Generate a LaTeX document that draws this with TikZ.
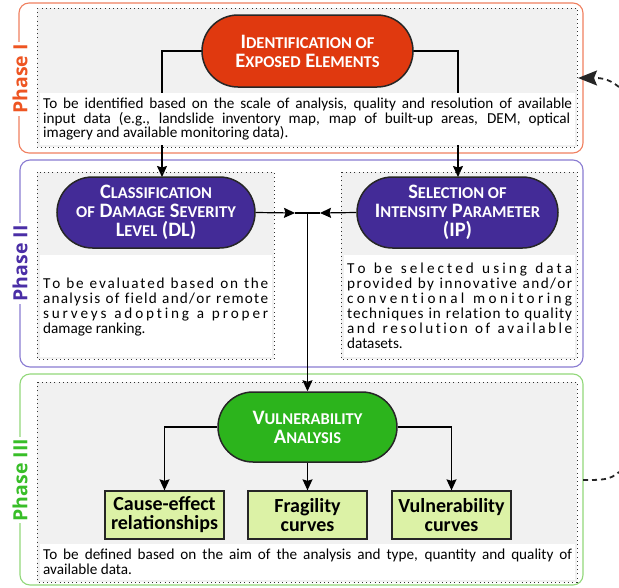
\documentclass[tikz,border=0pt]{standalone}
\usepackage{fontspec}
\setmainfont{Carlito}
\newfontfamily\labfont{Open Sans}
\usetikzlibrary{arrows.meta,shapes.misc}
\definecolor{phIline}{HTML}{F08060}
\definecolor{phItext}{HTML}{EE5522}
\definecolor{pillred}{HTML}{E0390F}
\definecolor{phIIline}{HTML}{8A7CD2}
\definecolor{phIItext}{HTML}{4A2EA6}
\definecolor{pillpurple}{HTML}{432B97}
\definecolor{phIIIline}{HTML}{92D87A}
\definecolor{phIIItext}{HTML}{38BE28}
\definecolor{pillgreen}{HTML}{2CB41C}
\definecolor{outbox}{HTML}{DCF2A6}
\definecolor{panelgray}{HTML}{F1F1F1}
\newcommand\sct[1]{{\fontsize{16.5}{19}\selectfont #1}}
\newcommand\jl[2]{\makebox[#1][s]{#2}}
\ExplSyntaxOn
\seq_new:N \l_my_words_seq
\NewDocumentCommand \lsline { m m }
  {
    \seq_set_split:Nnn \l_my_words_seq { ~ } {#2}
    \makebox[#1][s]
      {
        \seq_map_inline:Nn \l_my_words_seq
          {
            \tl_map_inline:nn {##1} { ####1 \hskip 0pt plus 1fil \relax }
            \unskip \hskip 0.22em plus 1.6fil \relax
          }
        \unskip
      }
  }
\ExplSyntaxOff
\tikzset{
  phasebox/.style={draw, line width=1.1pt, rounded corners=10pt, fill=white},
  panelfill/.style={fill=panelgray},
  whitearea/.style={fill=white},
  dotbox/.style={draw=black!80, line width=1pt, dash pattern=on 1pt off 3.2pt},
  pill/.style={rounded rectangle, draw=black!85, line width=1.5pt, text=white,
    align=center, inner sep=0pt,
    font=\fontsize{20.5}{19}\selectfont\bfseries},
  outnode/.style={draw=black!85, line width=1.3pt, fill=outbox, align=center,
    minimum width=119pt, minimum height=48pt, inner sep=0pt,
    font=\fontsize{20}{19}\selectfont\bfseries},
  bodytext/.style={anchor=base west, inner sep=0pt, font=\fontsize{15.2}{15}\selectfont},
  phaselabel/.style={rotate=90, fill=white, inner sep=2pt,
    font=\labfont\fontsize{19.5}{19}\selectfont\bfseries},
  arr/.style={line width=1.2pt, -{Stealth[length=11pt,width=10pt,inset=1.5pt]}},
  conn/.style={line width=1.2pt},
  fbk/.style={line width=1.8pt, black!85, dash pattern=on 5pt off 4pt}
}
\begin{document}
\begin{tikzpicture}[x=1pt,y=-1pt]
\useasboundingbox[fill=white] (0,0) rectangle (619,587);
% phase frames
\draw[phasebox, draw=phIline] (19,3) rectangle (583,153);
\draw[phasebox, draw=phIIline] (20,160) rectangle (583,367);
\draw[phasebox, draw=phIIIline] (20,374) rectangle (583,585);
% gray panels
\fill[panelfill] (37,8) rectangle (577,147);
\fill[panelfill] (37,172) rectangle (274,359);
\fill[panelfill] (341,172) rectangle (577,359);
\fill[panelfill] (37,382) rectangle (577,582);
% nodes (pills and outputs)
\node[pill, fill=pillpurple, minimum width=198pt, minimum height=71pt] (dl) at (156,212.5)
  {C\sct{LASSIFICATION}\\\sct{OF} D\sct{AMAGE} S\sct{EVERITY}\\L\sct{EVEL} (DL)};
\node[pill, fill=pillpurple, minimum width=201pt, minimum height=71pt] (ip) at (457.5,212.5)
  {S\sct{ELECTION OF}\\I\sct{NTENSITY} P\sct{ARAMETER}\\(IP)};
\node[pill, fill=pillgreen, minimum width=179pt, minimum height=70pt] (va) at (307.5,427)
  {V\sct{ULNERABILITY}\\A\sct{NALYSIS}};
\node[outnode] (ce) at (164.5,515) {Cause-effect\\relationships};
\node[outnode] (fr) at (307.5,515) {Fragility\\curves};
\node[outnode] (vc) at (451.5,515) {Vulnerability\\curves};
\path (307.5,51) coordinate (expc);
% connectors
\coordinate (expw) at (202,51);
\coordinate (expe) at (413,51);
\coordinate (dlin) at (162,177);
\coordinate (ipin) at (458,177);
\draw[arr] (expw) -| (dlin);
\draw[arr] (expe) -| (ipin);
\coordinate (jl) at (295,213);
\coordinate (jr) at (320,213);
\coordinate (jc) at (307.5,213);
\draw[arr] (dl.east) -- (jl);
\draw[arr] (ip.west) -- (jr);
\draw[conn] (jl) -- (jr);
\draw[arr] (jc) -- (va.north);
\draw[arr] (va.west) -| (ce.north);
\draw[arr] (va.south) -- (fr.north);
\draw[arr] (va.east) -| (vc.north);
% white text areas
\fill[whitearea] (40,93) rectangle (575,145);
\fill[whitearea] (40,255) rectangle (272,357);
\fill[whitearea] (344,255) rectangle (575,357);
\fill[whitearea] (40,544) rectangle (575,580);
% dotted frames
\draw[dotbox] (37,8) rectangle (577,147);
\draw[dotbox] (37,172) rectangle (274,359);
\draw[dotbox] (341,172) rectangle (577,359);
\draw[dotbox] (37,382) rectangle (577,582);
% top pill
\node[pill, fill=pillred, minimum width=211pt, minimum height=72pt] (exp) at (expc)
  {I\sct{DENTIFICATION OF}\\E\sct{XPOSED} E\sct{LEMENTS}};
% texts
\node[bodytext] (t1a) at (43,108) {\jl{529pt}{To be identified based on the scale of analysis, quality and resolution of available}};
\node[bodytext] (t1b) at (43,123) {\jl{527pt}{input data (e.g., landslide inventory map, map of built-up areas, DEM, optical}};
\node[bodytext] (t1c) at (43,137) {imagery and available monitoring data).};
\node[bodytext] (t2a) at (43,288) {\lsline{225pt}{To be evaluated based on the}};
\node[bodytext] (t2b) at (43,303) {\lsline{225pt}{analysis of field and/or remote}};
\node[bodytext] (t2c) at (43,318) {\lsline{225pt}{surveys adopting a proper}};
\node[bodytext] (t2d) at (43,333) {damage ranking.};
\node[bodytext] (t3a) at (347,273) {\lsline{225pt}{To be selected using data}};
\node[bodytext] (t3b) at (347,288) {\lsline{225pt}{provided by innovative and/or}};
\node[bodytext] (t3c) at (347,303) {\lsline{225pt}{conventional monitoring}};
\node[bodytext] (t3d) at (347,318) {\lsline{225pt}{techniques in relation to quality}};
\node[bodytext] (t3e) at (347,333) {\lsline{225pt}{and resolution of available}};
\node[bodytext] (t3f) at (347,348) {datasets.};
\node[bodytext] (t4a) at (43,559) {\jl{529pt}{To be defined based on the aim of the analysis and type, quantity and quality of}};
\node[bodytext] (t4b) at (43,574) {available data.};
% phase labels
\node[phaselabel, text=phItext] (lab1) at (20,79) {Phase I};
\node[phaselabel, text=phIItext] (lab2) at (20,263.5) {Phase II};
\node[phaselabel, text=phIIItext] (lab3) at (20,480) {Phase III};
% feedback loop ends
\coordinate (fbtip) at (578,78);
\coordinate (fbtop) at (619,87);
\coordinate (fbbot) at (583,480);
\coordinate (fbend) at (619,472);
\draw[fbk, -{Stealth[length=19pt,width=15pt,inset=3pt]}] (fbtop) .. controls (608,78) and (600,78) .. (fbtip);
\draw[fbk] (fbbot) .. controls (603,480) and (610,480) .. (fbend);
\end{tikzpicture}
\end{document}
